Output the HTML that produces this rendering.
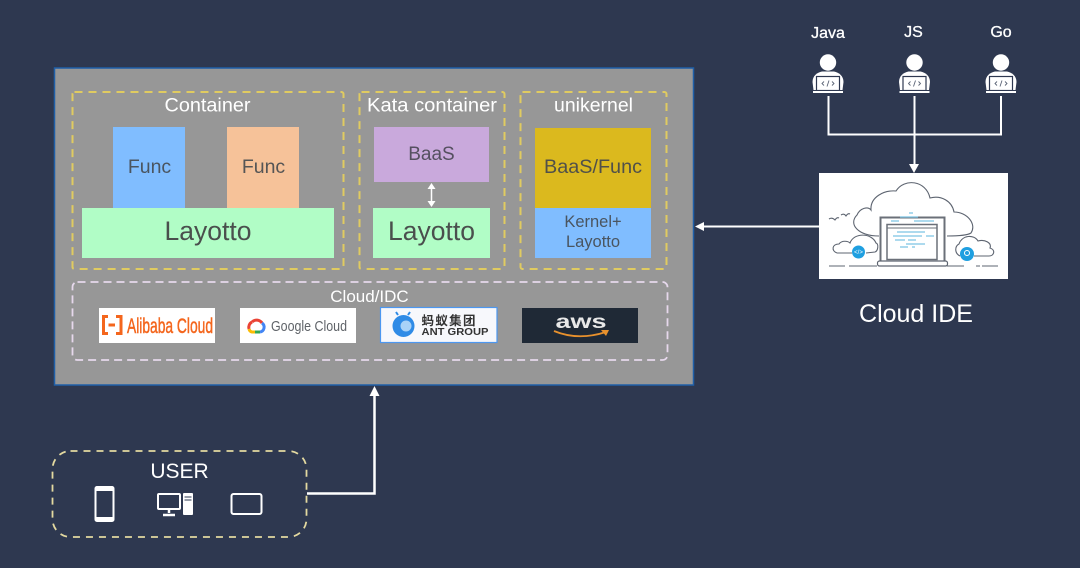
<!DOCTYPE html>
<html>
<head>
<meta charset="utf-8">
<style>
html,body{margin:0;padding:0;background:#2e3850;}
svg{display:block;}
text{font-family:"Liberation Sans","Noto Sans CJK SC",sans-serif;}
</style>
</head>
<body>
<svg width="1080" height="568" viewBox="0 0 1080 568" xmlns="http://www.w3.org/2000/svg">
<rect width="1080" height="568" fill="#2e3850"/>
<defs>
<g id="dev">
  <circle cx="0" cy="-16.500" r="8.200" fill="#fff"/>
  <path d="M-14.500 11 L-15.500 3 C-15.500 -3 -11 -6.500 -6 -7.500 L6 -7.500 C11 -6.500 15.500 -3 15.500 3 L14.500 11 Z" fill="#fff"/>
  <rect x="-11.500" y="-2.500" width="23" height="14" fill="#fff" stroke="#2e3850" stroke-width="1.200"/>
  <rect x="-15" y="12" width="30" height="2" fill="#fff"/>
  <path d="M-4 2.500 L-6 4.500 L-4 6.500 M4 2.500 L6 4.500 L4 6.500 M1 1.500 L-1 7.500" fill="none" stroke="#5b6476" stroke-width="0.900"/>
</g>
</defs>

<!-- main panel -->
<rect x="54.500" y="68" width="639" height="317" fill="#979797" stroke="#1f5fa8" stroke-width="1.500"/>

<!-- dashed groups -->
<g fill="none" stroke="#e0cb60" stroke-width="2" stroke-dasharray="8 6">
  <rect x="72.500" y="92" width="271" height="177" rx="2"/>
  <rect x="359.500" y="92" width="145" height="177" rx="2"/>
  <rect x="520.500" y="92" width="146" height="177" rx="2"/>
</g>

<!-- Container -->
<text x="207.500" y="111.500" font-size="19" fill="#fff" text-anchor="middle" textLength="86" lengthAdjust="spacingAndGlyphs">Container</text>
<rect x="113" y="127" width="72" height="81" fill="#80bdff"/>
<rect x="227" y="127" width="72" height="81" fill="#f6c299"/>
<rect x="82" y="208" width="252" height="50" fill="#b1fdc6"/>
<text x="149.500" y="173" font-size="19.500" fill="#4a5560" text-anchor="middle">Func</text>
<text x="263.500" y="173" font-size="19.500" fill="#555" text-anchor="middle">Func</text>
<text x="208" y="240" font-size="26.500" fill="#4a4f4d" text-anchor="middle">Layotto</text>

<!-- Kata -->
<text x="432" y="111.500" font-size="19" fill="#fff" text-anchor="middle" textLength="130" lengthAdjust="spacingAndGlyphs">Kata container</text>
<rect x="374" y="127" width="115" height="55" fill="#c9a9dc"/>
<rect x="373" y="208" width="117" height="50" fill="#b1fdc6"/>
<text x="431.500" y="160" font-size="19" fill="#555060" text-anchor="middle">BaaS</text>
<text x="431.500" y="240" font-size="26.500" fill="#4a4f4d" text-anchor="middle">Layotto</text>
<path d="M431.500 186 V204" stroke="#fff" stroke-width="1.500" fill="none"/>
<path d="M431.500 183 L427.500 189 H435.500 Z M431.500 207 L427.500 201 H435.500 Z" fill="#fff"/>

<!-- unikernel -->
<text x="593.500" y="111.500" font-size="19" fill="#fff" text-anchor="middle" textLength="79" lengthAdjust="spacingAndGlyphs">unikernel</text>
<rect x="535" y="128" width="116" height="80" fill="#dbb91e"/>
<rect x="535" y="208" width="116" height="50" fill="#80bdff"/>
<text x="593" y="173" font-size="19.500" fill="#50504a" text-anchor="middle" textLength="98" lengthAdjust="spacingAndGlyphs">BaaS/Func</text>
<text x="593" y="227" font-size="16.500" fill="#4a5560" text-anchor="middle">Kernel+</text>
<text x="593" y="247" font-size="16.500" fill="#4a5560" text-anchor="middle">Layotto</text>

<!-- Cloud/IDC -->
<rect x="72.500" y="282" width="595" height="78" rx="5" fill="none" stroke="#e6d8ec" stroke-width="1.800" stroke-dasharray="8 5"/>
<text x="369.500" y="302" font-size="17" fill="#fff" text-anchor="middle">Cloud/IDC</text>

<!-- Alibaba -->
<rect x="99" y="308" width="116" height="35" fill="#fff"/>
<path d="M108 316.500 H103.500 V333.500 H108 M116 316.500 H121 V333.500 H116 M108.500 325 H115" fill="none" stroke="#f4661d" stroke-width="3"/>
<text x="127" y="333" font-size="21" fill="#f4661d" stroke="#f4661d" stroke-width=".5" textLength="86" lengthAdjust="spacingAndGlyphs">Alibaba Cloud</text>

<!-- Google -->
<rect x="240" y="308" width="116" height="35" fill="#fff"/>
<path d="M249 329 A6 6 0 0 1 252 322" fill="none" stroke="#ea4335" stroke-width="3"/>
<path d="M252 322 A6.500 6.500 0 0 1 262 323" fill="none" stroke="#ea4335" stroke-width="3"/>
<path d="M262 323 A5 5 0 0 1 260 332" fill="none" stroke="#4285f4" stroke-width="3"/>
<path d="M260 332 H255" fill="none" stroke="#34a853" stroke-width="3"/>
<path d="M255 332 H252 A4 4 0 0 1 249 329" fill="none" stroke="#fbbc04" stroke-width="3"/>
<text x="271" y="331" font-size="15" fill="#5f6368" textLength="76" lengthAdjust="spacingAndGlyphs">Google Cloud</text>

<!-- Ant -->
<rect x="380.500" y="307.500" width="116.500" height="35" fill="#f7f8fc" stroke="#4c97f0" stroke-width="1.200"/>
<circle cx="403.500" cy="326" r="11" fill="#2f8be6"/>
<circle cx="406" cy="326" r="5.500" fill="#a8d2f8"/>
<path d="M398 315 L396 312 M408 315 L410 312" stroke="#2f8be6" stroke-width="2"/>
<text x="421.500" y="325" font-size="12.500" font-weight="bold" fill="#333" textLength="54">蚂蚁集团</text>
<text x="421.500" y="335" font-size="10.500" font-weight="bold" fill="#333" textLength="67" lengthAdjust="spacingAndGlyphs">ANT GROUP</text>

<!-- AWS -->
<rect x="522" y="308" width="116" height="35" fill="#1f2936"/>
<text x="581" y="328" font-size="19" font-weight="bold" fill="#e8e8e8" text-anchor="middle" textLength="51" lengthAdjust="spacingAndGlyphs">aws</text>
<path d="M554 331 Q578 341 606 332" fill="none" stroke="#e8912d" stroke-width="1.800"/>
<path d="M601 330 L609 330 L606 336 Z" fill="#e8912d"/>

<!-- Developers -->
<text x="828" y="38" font-size="16" fill="#fff" text-anchor="middle" stroke="#fff" stroke-width=".3">Java</text>
<text x="913.500" y="37" font-size="16" fill="#fff" text-anchor="middle" stroke="#fff" stroke-width=".3">JS</text>
<text x="1001" y="37" font-size="16" fill="#fff" text-anchor="middle" stroke="#fff" stroke-width=".3">Go</text>
<use href="#dev" x="828" y="79"/>
<use href="#dev" x="914.500" y="79"/>
<use href="#dev" x="1001" y="79"/>
<path d="M828.500 96 V134.500 H1001 V96" fill="none" stroke="#fff" stroke-width="2"/>
<path d="M914.500 96 V166" fill="none" stroke="#fff" stroke-width="2"/>
<path d="M914 173 L909 164 H919 Z" fill="#fff"/>

<!-- Cloud IDE box -->
<rect x="819" y="173" width="189" height="106" fill="#fff"/>
<g fill="none" stroke="#5d6470" stroke-width="1.100">
  <path d="M879 236 C858 236 848 224 857 215 C860 208 868 206 871 210 C870 197 884 190 896 191 C904 178 926 180 930 198 C941 195 952 201 954 212 C967 212 977 224 971 233 C968 235 960 236 947 236"/>
  <path d="M837 253 C831 251 832 244 839 244 C842 240 848 241 850 243 C854 232 872 233 876 243 C879 244 878 251 875 252 L866 253 M837 253 H852"/>
  <path d="M960 256 C954 253 955 246 959 244 C962 235 974 234 978 241 C985 239 992 243 990 248 C996 250 994 256 989 256 L974 256"/>
  <path d="M829 219 Q832 217 835 220 Q837 217 839 218 M841 215 Q844 213 846 216 Q848 213 850 214"/>
  <path d="M829 266 H845 M849 266 H877 M947 266 H964 M976 266 H980 M983 266 H987 M982 266 H998"/>
</g>
<rect x="880.500" y="217.500" width="64" height="44" fill="#fff" stroke="#6b7079" stroke-width="2"/>
<rect x="887" y="224.500" width="50" height="35" fill="#fff" stroke="#6b7079" stroke-width="1.500"/>
<rect x="877.500" y="261" width="70" height="5" rx="2" fill="#fff" stroke="#5d6470" stroke-width="1.200"/>
<path d="M887 228 H937" stroke="#6b7079" stroke-width="1"/>
<g stroke="#7cc4e3" stroke-width="1.200">
  <path d="M909 213 H913 M900 217 H918 M891 221 H899 M914 221 H934"/>
  <path d="M897 232 H925 M893 236 H922 M926 236 H934 M895 240 H905 M908 240 H916 M906 244 H925 M900 247 H908 M912 247 H915"/>
</g>
<circle cx="858.500" cy="252" r="6.500" fill="#1f9fe0"/>
<text x="858.500" y="254" font-size="6" fill="#fff" text-anchor="middle">&lt;/&gt;</text>
<circle cx="967" cy="254" r="7" fill="#1f9fe0"/>
<circle cx="967" cy="253" r="2.500" fill="none" stroke="#fff" stroke-width="1"/>
<text x="916" y="322" font-size="25" fill="#fff" text-anchor="middle">Cloud IDE</text>

<!-- IDE to panel arrow -->
<path d="M819 226.500 H702" fill="none" stroke="#fff" stroke-width="2"/>
<path d="M695 226.500 L704 222 V231 Z" fill="#fff"/>

<!-- USER -->
<rect x="52.500" y="451" width="254" height="86" rx="18" fill="none" stroke="#e3d9a0" stroke-width="1.800" stroke-dasharray="7 6"/>
<text x="179.500" y="478" font-size="21" fill="#fff" text-anchor="middle">USER</text>
<rect x="95.500" y="487" width="18" height="34" rx="1.500" fill="#2e3850" stroke="#fff" stroke-width="2"/>
<rect x="95" y="487" width="19" height="4" fill="#fff"/>
<rect x="95" y="517" width="19" height="4" fill="#fff"/>
<rect x="158" y="494" width="22" height="15" rx="1" fill="none" stroke="#fff" stroke-width="2"/>
<path d="M169 509 V513 M163 515 H175" stroke="#fff" stroke-width="2.500" fill="none"/>
<rect x="183" y="493" width="10" height="22" rx="1" fill="#fff"/>
<path d="M184.500 497 H191.500 M184.500 500 H191.500" stroke="#2e3850" stroke-width="1"/>
<rect x="231.500" y="494" width="30" height="20" rx="2" fill="none" stroke="#fff" stroke-width="2"/>
<path d="M307 493.500 H374.500 V394" fill="none" stroke="#fff" stroke-width="2.500"/>
<path d="M374.500 386 L369.500 396 H379.500 Z" fill="#fff"/>
</svg>
</body>
</html>
